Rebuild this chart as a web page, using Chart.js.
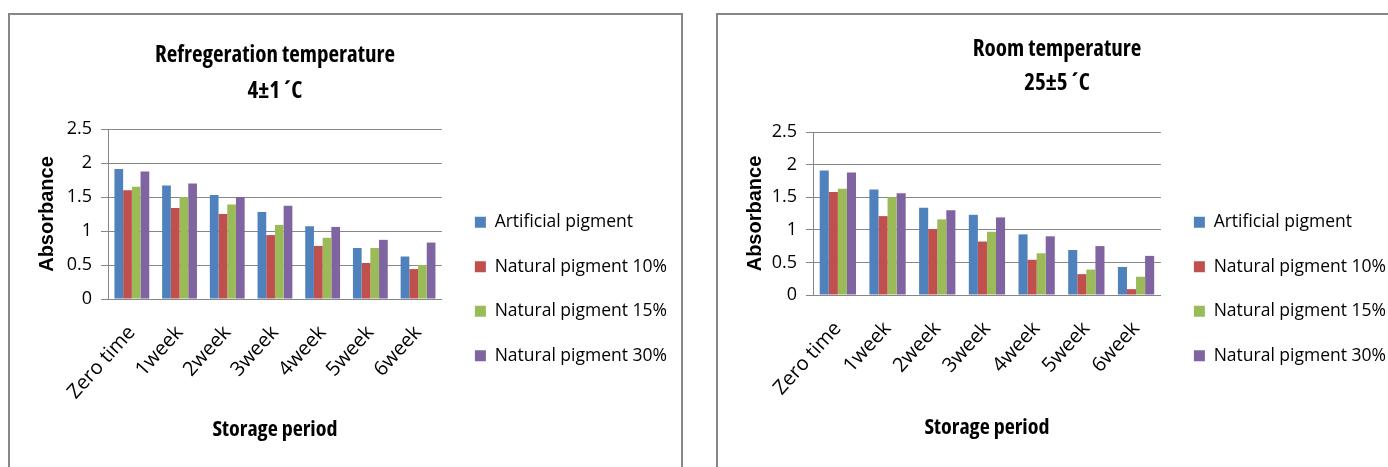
<!DOCTYPE html>
<html>
<head>
<meta charset="utf-8">
<script src="https://cdn.jsdelivr.net/npm/chart.js@4.4.1/dist/chart.umd.min.js"></script>
<style>
  body { margin:0; background:#fff; width:1388px; height:467px; overflow:hidden; position:relative; }
  .box { position:absolute; top:13px; height:470px; border:2px solid #878787; background:#fff; }
  #box1 { left:8px; width:671px; }
  #box2 { left:716px; width:690px; }
  canvas { position:absolute; left:0; top:0; }
</style>
</head>
<body>
<div class="box" id="box1"><canvas id="chart1" width="671" height="452"></canvas></div>
<div class="box" id="box2"><canvas id="chart2" width="678" height="452"></canvas></div>
<script>
// storage period categories
const periods = ['Zero time', '1week', '2week', '3week', '4week', '5week', '6week'];
const seriesNames = ['Artificial pigment', 'Natural pigment 10%', 'Natural pigment 15%', 'Natural pigment 30%'];
const colors = ['#4F81BD', '#C0504D', '#9BBB59', '#8064A2'];

// refrigeration 4±1 °C
const fridgeArtificial = [1.91, 1.67, 1.53, 1.28, 1.07, 0.75, 0.625];
const fridgeNat10 = [1.60, 1.34, 1.25, 0.94, 0.78, 0.53, 0.44];
const fridgeNat15 = [1.65, 1.50, 1.39, 1.09, 0.90, 0.75, 0.50];
const fridgeNat30 = [1.875, 1.70, 1.50, 1.37, 1.06, 0.87, 0.83];

// room 25±5 °C
const roomArtificial = [1.91, 1.62, 1.34, 1.23, 0.93, 0.69, 0.43];
const roomNat10 = [1.58, 1.21, 1.01, 0.82, 0.54, 0.32, 0.09];
const roomNat15 = [1.63, 1.50, 1.16, 0.97, 0.64, 0.39, 0.28];
const roomNat30 = [1.88, 1.56, 1.30, 1.19, 0.90, 0.75, 0.60];

// y axis
const yMin = 0, yMax = 2.5, yStep = 0.5;

// condensed bold Open Sans for titles looks closest to the squeezed Calibri
const sans = '"Open Sans", sans-serif';
const wide = '"Liberation Sans", Arial, sans-serif';
const gridColor = '#868686';

Chart.defaults.color = '#000';
Chart.defaults.animation = false;

function makeChart(id, titleLines, values, lay) {
  const datasets = values.map((v, i) => ({
    label: seriesNames[i],
    data: v,
    backgroundColor: colors[i],
    borderWidth: 0,
    barPercentage: 1,
    categoryPercentage: 0.73
  }));
  return new Chart(document.getElementById(id), {
    type: 'bar',
    data: { labels: periods, datasets: datasets },
    options: {
      responsive: false,
      devicePixelRatio: 1,
      layout: { padding: { left: lay.padLeft, right: lay.padRight, top: 0, bottom: 0 } },
      plugins: {
        tooltip: { enabled: false },
        title: {
          display: true,
          text: titleLines,
          fullSize: lay.titleFull,
          font: { family: sans, size: 23, weight: 'condensed bold', lineHeight: lay.titleLine },
          color: '#000',
          padding: { top: lay.titleTop, bottom: lay.titleBottom }
        },
        legend: {
          position: 'right',
          maxWidth: 320,
          title: { display: true, text: '', font: { size: 10 }, padding: { top: lay.legendShift / 2, bottom: lay.legendShift / 2 } },
          labels: {
            boxWidth: 11,
            boxHeight: 11,
            padding: 27,
            color: '#000',
            font: { family: sans, size: 17.5 }
          }
        }
      },
      scales: {
        x: {
          afterFit: (s) => { s.height = lay.xHeight; },
          grid: { display: false },
          border: { display: true, color: gridColor, width: 1 },
          ticks: {
            minRotation: 48, maxRotation: 48,
            padding: 14,
            font: { family: sans, size: 20 },
            color: '#000'
          },
          title: {
            display: true,
            text: 'Storage period',
            font: { family: sans, size: 22, weight: 'condensed bold' },
            color: '#000',
            padding: { top: 0, bottom: lay.xTitlePad }
          }
        },
        y: {
          min: yMin, max: yMax,
          afterFit: (s) => { s.width = lay.yWidth; },
          grid: { color: gridColor, lineWidth: 1, drawTicks: true, tickLength: 7 },
          border: { display: true, color: gridColor, width: 1 },
          ticks: {
            stepSize: yStep,
            padding: 9,
            callback: (v) => String(+v.toFixed(1)),
            font: { family: sans, size: 18 },
            color: '#000'
          },
          title: {
            display: true,
            text: 'Absorbance',
            font: { family: wide, size: 20, weight: 'bold' },
            color: '#000',
            padding: { top: lay.yTitlePad, bottom: 0 }
          }
        },
        // empty strip that keeps the legend a little away from the plot
        gap: {
          position: 'right',
          afterFit: (s) => { s.width = 6; },
          grid: { display: false },
          border: { display: false },
          ticks: { display: false }
        }
      }
    }
  });
}

makeChart('chart1', ['Refregeration temperature', '4±1 ´C'],
  [fridgeArtificial, fridgeNat10, fridgeNat15, fridgeNat30],
  { padLeft: 0, padRight: 4, titleFull: false, titleLine: 36 / 23, titleTop: 22, titleBottom: 20,
    legendShift: 84, xHeight: 168, xTitlePad: 24, yWidth: 98, yTitlePad: 25 });

makeChart('chart2', ['Room temperature', '25±5 ´C'],
  [roomArtificial, roomNat10, roomNat15, roomNat30],
  { padLeft: 0, padRight: 0, titleFull: true, titleLine: 34 / 23, titleTop: 17, titleBottom: 32,
    legendShift: 84, xHeight: 172, xTitlePad: 26, yWidth: 95, yTitlePad: 25 });
</script>
</body>
</html>
